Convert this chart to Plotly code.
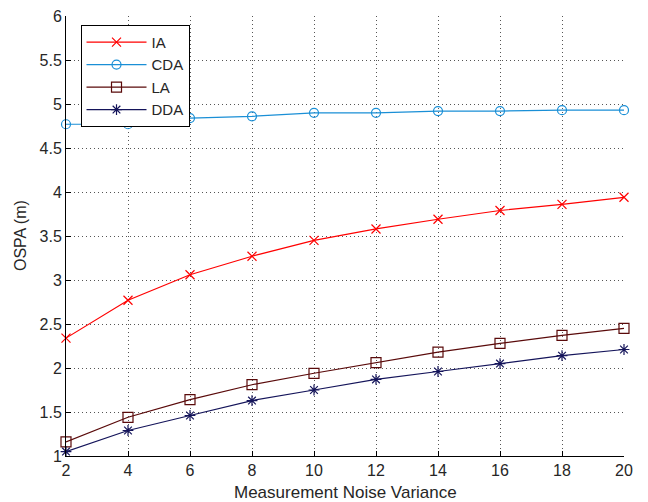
import plotly.graph_objects as go

x_vals = [2, 4, 6, 8, 10, 12, 14, 16, 18, 20]
ia = [2.34, 2.77, 3.06, 3.27, 3.45, 3.58, 3.69, 3.79, 3.86, 3.94]
cda = [4.77, 4.77, 4.84, 4.86, 4.90, 4.90, 4.92, 4.92, 4.93, 4.93]
la = [1.16, 1.44, 1.64, 1.81, 1.94, 2.06, 2.18, 2.28, 2.37, 2.45]
dda = [1.05, 1.29, 1.46, 1.63, 1.75, 1.87, 1.96, 2.05, 2.14, 2.21]

x_ticks = [2, 4, 6, 8, 10, 12, 14, 16, 18, 20]
y_ticks = [1, 1.5, 2, 2.5, 3, 3.5, 4, 4.5, 5, 5.5, 6]
y_tick_text = ["1", "1.5", "2", "2.5", "3", "3.5", "4", "4.5", "5", "5.5", "6"]

series = [
    ("IA", ia, "#ff0000", "x-thin-open", 9),
    ("CDA", cda, "#1a8fd6", "circle-open", 9),
    ("LA", la, "#5a0a0a", "square-open", 10),
    ("DDA", dda, "#14145a", "asterisk-open", 9),
]

fig = go.Figure()
for name, ys, color, sym, size in series:
    fig.add_trace(go.Scatter(
        x=x_vals, y=ys, name=name, mode="lines+markers",
        line=dict(color=color, width=1.2),
        marker=dict(symbol=sym, size=size, color=color, line=dict(color=color, width=1.2)),
        cliponaxis=False,
    ))

font_family = "Liberation Sans, Arial, sans-serif"
text_color = "#262626"
grid_color = "#555555"
fig.update_layout(
    width=648, height=502,
    margin=dict(l=66, r=24, t=16, b=46, autoexpand=False),
    paper_bgcolor="white", plot_bgcolor="white",
    font=dict(family=font_family, size=16, color=text_color),
    showlegend=True,
    legend=dict(
        x=0.026, y=0.98, xanchor="left", yanchor="top",
        bgcolor="white", bordercolor="black", borderwidth=1,
        font=dict(size=15, color=text_color),
        itemwidth=60, tracegroupgap=0,
    ),
    xaxis=dict(
        range=[2, 20], tickvals=x_ticks, ticks="inside", ticklen=5,
        tickcolor="black", showline=True, linecolor="black", linewidth=1,
        showgrid=True, gridcolor=grid_color, griddash="1px,3px", gridwidth=1,
        zeroline=False, mirror=False, automargin=False,
        tickfont=dict(size=16),
    ),
    yaxis=dict(
        range=[1, 6], tickvals=y_ticks, ticktext=y_tick_text, ticks="inside", ticklen=5,
        tickcolor="black", showline=True, linecolor="black", linewidth=1,
        showgrid=True, gridcolor=grid_color, griddash="1px,3px", gridwidth=1,
        zeroline=False, mirror=False, automargin=False,
        tickfont=dict(size=16),
    ),
    annotations=[
        dict(text="Measurement Noise Variance", xref="paper", yref="paper",
             x=0.5, y=0, yshift=-36, xanchor="center", yanchor="middle",
             showarrow=False, font=dict(size=17, color=text_color)),
        dict(text="OSPA (m)", xref="paper", yref="paper",
             x=0, y=0.5, xshift=-46, xanchor="center", yanchor="middle",
             textangle=-90, showarrow=False, font=dict(size=16, color=text_color)),
    ],
)

fig.write_html("out.html", config={"displayModeBar": False},
               post_script="document.body.style.margin='0';document.body.style.overflow='hidden';")
